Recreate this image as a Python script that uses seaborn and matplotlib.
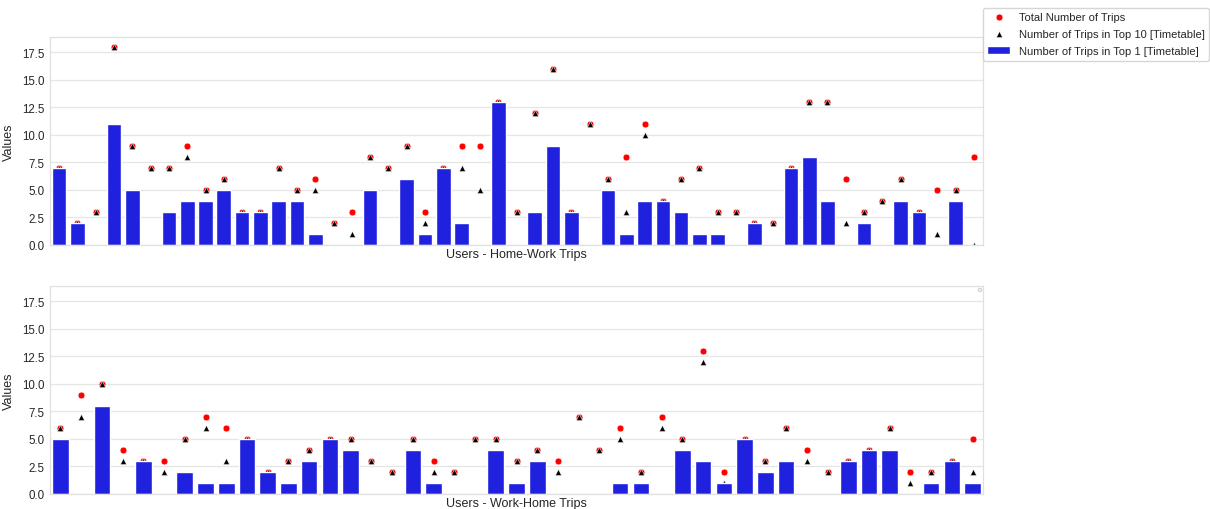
import matplotlib
matplotlib.use("Agg")
import matplotlib.pyplot as plt
import seaborn as sns
import pandas as pd
import numpy as np

# Home-Work trips (top panel)
hw_total = [7, 2, 3, 18, 9, 7, 7, 9, 5, 6, 3, 3, 7, 5, 6, 2, 3, 8, 7, 9, 3, 7, 9, 9, 13, 3,
            12, 16, 3, 11, 6, 8, 11, 4, 6, 7, 3, 3, 2, 2, 7, 13, 13, 6, 3, 4, 6, 3, 5, 5, 8]
hw_top10 = [7, 2, 3, 18, 9, 7, 7, 8, 5, 6, 3, 3, 7, 5, 5, 2, 1, 8, 7, 9, 2, 7, 7, 5, 13, 3,
            12, 16, 3, 11, 6, 3, 10, 4, 6, 7, 3, 3, 2, 2, 7, 13, 13, 2, 3, 4, 6, 3, 1, 5, 0]
hw_top1 = [7, 2, 0, 11, 5, 0, 3, 4, 4, 5, 3, 3, 4, 4, 1, 0, 0, 5, 0, 6, 1, 7, 2, 0, 13, 0,
           3, 9, 3, 0, 5, 1, 4, 4, 3, 1, 1, 0, 2, 0, 7, 8, 4, 0, 2, 0, 4, 3, 0, 4, 0]

# Work-Home trips (bottom panel)
wh_total = [6, 9, 10, 4, 3, 3, 5, 7, 6, 5, 2, 3, 4, 5, 5, 3, 2, 5, 3, 2, 5, 5, 3, 4, 3, 7, 4,
            6, 2, 7, 5, 13, 2, 5, 3, 6, 4, 2, 3, 4, 6, 2, 2, 3, 5]
wh_top10 = [6, 7, 10, 3, 3, 2, 5, 6, 3, 5, 2, 3, 4, 5, 5, 3, 2, 5, 2, 2, 5, 5, 3, 4, 2, 7, 4,
            5, 2, 6, 5, 12, 1, 5, 3, 6, 3, 2, 3, 4, 6, 1, 2, 3, 2]
wh_top1 = [5, 0, 8, 0, 3, 0, 2, 1, 1, 5, 2, 1, 3, 5, 4, 0, 0, 4, 1, 0, 0, 4, 1, 3, 0, 0, 0,
           1, 1, 0, 4, 3, 1, 5, 2, 3, 0, 0, 3, 4, 4, 0, 1, 3, 1]

label_total = "Total Number of Trips"
label_top10 = "Number of Trips in Top 10 [Timetable]"
label_top1 = "Number of Trips in Top 1 [Timetable]"

sns.set_theme(style="whitegrid", rc={
    "axes.edgecolor": "0.88", "grid.color": "0.9", "axes.linewidth": 0.9,
    "grid.linewidth": 0.9,
})
plt.rcParams['font.family'] = ['Liberation Sans', 'DejaVu Sans']

TICK_FS = 8.3
LABEL_FS = 9
LEG_FS = 8

fig = plt.figure(figsize=(12.1, 5.1), dpi=100)
ax1 = fig.add_axes([50/1210, 1-246/510, 933/1210, 208/510])
ax2 = fig.add_axes([50/1210, 1-495/510, 933/1210, 208/510], sharey=ax1)


def draw(ax, total, top10, top1, xlabel, with_labels):
    users = [f"u{i}" for i in range(len(total))]
    df = pd.DataFrame({"user": users, "total": total, "top10": top10, "top1": top1})
    sns.scatterplot(data=df, x="user", y="total", ax=ax, color="red", s=24,
                    label=label_total if with_labels else None, legend=False, zorder=1)
    sns.scatterplot(data=df, x="user", y="top10", ax=ax, color="black", marker="^", s=20,
                    label=label_top10 if with_labels else None, legend=False, zorder=1)
    sns.barplot(data=df, x="user", y="top1", ax=ax, color="blue",
                label=label_top1 if with_labels else None, legend=False, zorder=1)
    ax.set_xticks([])
    ax.set_xlabel(xlabel, fontsize=LABEL_FS, labelpad=2)
    ax.set_ylabel("Values", fontsize=LABEL_FS, labelpad=5)
    ax.tick_params(axis="y", labelsize=TICK_FS, length=0, pad=4, labelleft=True)
    ax.set_xlim(-0.5, len(total) - 0.5)


draw(ax1, hw_total, hw_top10, hw_top1, "Users - Home-Work Trips", True)
draw(ax2, wh_total, wh_top10, wh_top1, "Users - Work-Home Trips", False)
ax1.set_ylim(0, 18.9)
ax1.set_yticks([0, 2.5, 5, 7.5, 10, 12.5, 15, 17.5])

ax1.legend(loc="upper left", bbox_to_anchor=(1.0, 1.14), fontsize=LEG_FS, frameon=True,
           borderaxespad=0.0, labelspacing=0.62)
ax2.legend(handles=[], loc="upper right", fontsize=3, borderpad=0.3)

fig.savefig("out.png", dpi=100)
